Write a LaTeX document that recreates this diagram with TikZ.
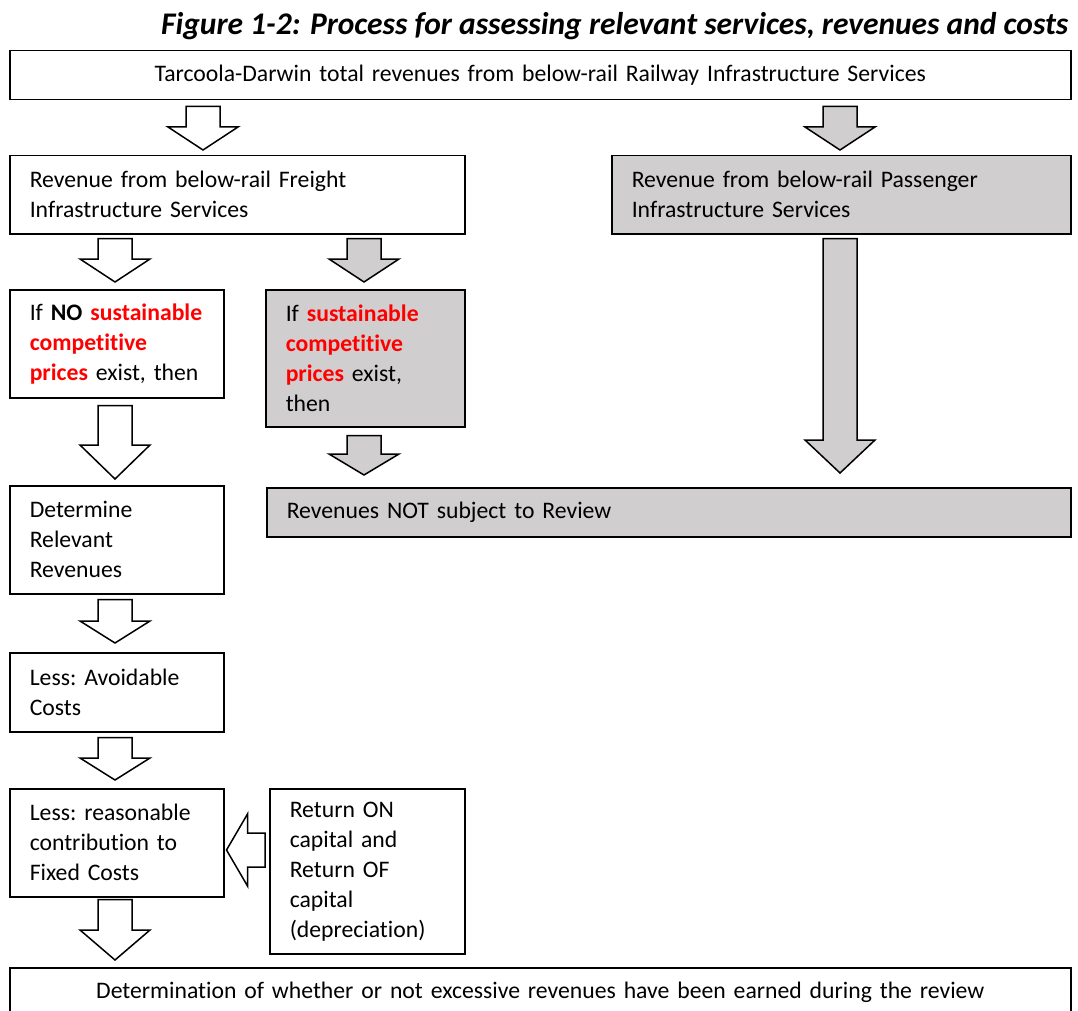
\documentclass[tikz,border=0pt]{standalone}
\usepackage{fontspec}
\setmainfont{Carlito}[Ligatures={NoCommon}]
\usepackage{tikz}
\usetikzlibrary{calc}
\definecolor{bgray}{HTML}{D0CECE}
\definecolor{hred}{HTML}{FF0000}
\newcommand{\hl}[1]{\textcolor{hred}{\bfseries #1}}
\tikzset{
  every node/.style={font=\fontsize{23.7}{30}\selectfont},
  box/.style ={draw, line width=1.5pt, anchor=north west, inner xsep=20pt,
               inner ysep=0pt, align=left,
               execute at begin node={\hyphenpenalty=10000\exhyphenpenalty=10000}},
  gbox/.style={box, fill=bgray},
  blk len/.store in=\blklen, blk len=23pt,
  % block arrow pointing down, tail at start, tip at target
  blkdn/.style={draw, line width=1.5pt, line join=miter, to path={
    let \p1=(\tikztostart), \p2=(\tikztotarget) in
    (\x1-17pt,\y1) -- (\x1+17pt,\y1) -- (\x1+17pt,\y2+\blklen)
    -- (\x1+35pt,\y2+\blklen) -- (\x1,\y2) -- (\x1-35pt,\y2+\blklen)
    -- (\x1-17pt,\y2+\blklen) -- cycle}},
  % block arrow pointing left
  blklt/.style={draw, line width=1.5pt, line join=miter, to path={
    let \p1=(\tikztostart), \p2=(\tikztotarget) in
    (\x1,\y1+17pt) -- (\x1,\y1-17pt) -- (\x2+\blklen,\y1-17pt)
    -- (\x2+\blklen,\y1-36pt) -- (\x2,\y1) -- (\x2+\blklen,\y1+36pt)
    -- (\x2+\blklen,\y1+17pt) -- cycle}},
  blkw/.style={blkdn, fill=white},
  blkg/.style={blkdn, fill=bgray},
}

\begin{document}
\begin{tikzpicture}[x=1pt, y=1pt]
\useasboundingbox (0,0) rectangle (1078,-1011);

% ---------------- title ------------------------------------------------------
\node[anchor=east, font=\fontsize{31.5}{36}\selectfont\bfseries\itshape] (ttl)
  at (1072,-26) {Figure 1-2: Process for assessing relevant services, revenues and costs};

% arrow tracks
\coordinate (cT) at (203,0);
\coordinate (cL) at (115,0);
\coordinate (cM) at (364,0);
\coordinate (cR) at (840,0);
\coordinate (cA) at (0,-850);

% ---------------- boxes ------------------------------------------------------
\node[box, text width=1021pt, align=center, minimum height=49pt] (top) at (9,-50)
  {Tarcoola-Darwin total revenues from below-rail Railway Infrastructure Services};

\node[box, text width=415pt, minimum height=78pt] (frt) at (9,-155)
  {Revenue from below-rail Freight\\Infrastructure Services};
\node[gbox, text width=419pt, minimum height=78pt] (pas) at (611,-155)
  {Revenue from below-rail Passenger\\Infrastructure Services};

\node[box, text width=174pt, minimum height=108pt] (nosc) at (9,-289)
  {If~\textbf{NO}~\hl{sustainable}\\\hl{competitive}\\\hl{prices}~exist,~then};
\node[gbox, text width=159pt, minimum height=137pt] (sc) at (265,-289)
  {If~\hl{sustainable}\\\hl{competitive}\\\hl{prices}~exist,\\then};

\node[box, text width=174pt, minimum height=108pt] (det) at (9,-485)
  {Determine\\Relevant\\Revenues};
\node[gbox, text width=764pt, minimum height=49pt] (nrev) at (266,-487)
  {Revenues NOT subject to Review};

\node[box, text width=174pt, minimum height=79pt] (avc) at (9,-652)
  {Less:~Avoidable\\Costs};
\node[box, text width=174pt, minimum height=108pt] (fix) at (9,-788)
  {Less:~reasonable\\contribution~to\\Fixed~Costs};
\node[box, text width=155pt, minimum height=165pt] (ret) at (269,-788)
  {Return~ON\\capital~and\\Return~OF\\capital\\(depreciation)};

\node[box, text width=1021pt, align=center, minimum height=50pt] (exc) at (9,-967)
  {Determination of whether or not excessive revenues have been earned during the review};

% ---------------- block arrows -----------------------------------------------
\draw[blkw] ($(top.south -| cT)+(0,-6)$) to ($(frt.north -| cT)+(0,5)$);
\draw[blkg] ($(top.south -| cR)+(0,-6)$) to ($(pas.north -| cR)+(0,5)$);
\draw[blkw] ($(frt.south -| cL)+(0,-4)$) to ($(nosc.north -| cL)+(0,7)$);
\draw[blkg] ($(frt.south -| cM)+(0,-4)$) to ($(sc.north -| cM)+(0,7)$);
\draw[blkw, blk len=34pt] ($(nosc.south -| cL)+(0,-7)$) to ($(det.north -| cL)+(0,6)$);
\draw[blkg, blk len=21pt] ($(sc.south -| cM)+(0,-8)$) to ($(nrev.north -| cM)+(0,12)$);
\draw[blkg, blk len=33pt] ($(pas.south -| cR)+(0,-4)$) to ($(nrev.north -| cR)+(0,14)$);
\draw[blkw, blk len=22pt] ($(det.south -| cL)+(0,-5)$) to ($(avc.north -| cL)+(0,9)$);
\draw[blkw, blk len=22pt] ($(avc.south -| cL)+(0,-5)$) to ($(fix.north -| cL)+(0,8)$);
\draw[blkw, blk len=30pt] ($(fix.south -| cL)+(0,-2)$) to ($(exc.north -| cL)+(0,7)$);
\draw[blklt, fill=white, blk len=21pt] ($(ret.west |- cA)+(-4,0)$) to ($(fix.east |- cA)+(2,0)$);

\end{tikzpicture}
\end{document}
